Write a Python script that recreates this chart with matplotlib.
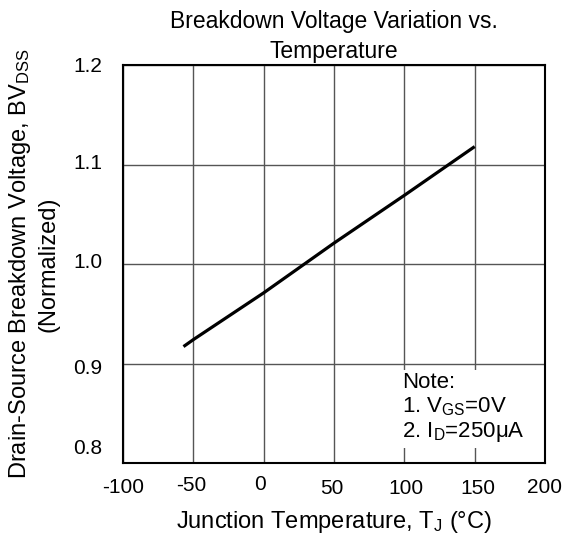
import matplotlib
matplotlib.use("Agg")
import matplotlib.pyplot as plt
import matplotlib.transforms as mtrans

plt.rcParams['font.family'] = ['Liberation Sans', 'DejaVu Sans']
plt.rcParams['mathtext.fontset'] = 'custom'
plt.rcParams['mathtext.rm'] = 'Liberation Sans'
plt.rcParams['mathtext.it'] = 'Liberation Sans'

# Data
temps = [-57, -50, 0, 50, 100, 150]
bv_norm = [0.917, 0.924, 0.971, 1.021, 1.069, 1.118]
x_ticks = [-100, -50, 0, 50, 100, 150, 200]
x_tick_labels = ['-100', '-50', '0', '50', '100', '150', '200']
y_ticks = [0.8, 0.9, 1.0, 1.1, 1.2]
y_tick_labels = ['0.8', '0.9', '1.0', '1.1', '1.2']
# per-label pixel offsets (dx, dy up) for tick labels
x_label_offsets = [(0, 0), (-2, 2), (-4, 3), (-2, -1), (2, -1), (3, -1), (0, 0)]
y_label_offsets = [(0, 16), (0, -2.5), (0, 3.5), (0, 3), (0, 0)]

fig = plt.figure(figsize=(5.67, 5.43), dpi=100)
ax = fig.add_axes([123/567, 1-463/543, (545-123)/567, (463-65)/543])

ax.plot(temps, bv_norm, color='black', lw=2.3, solid_capstyle='butt', zorder=3)

ax.set_xlim(-100, 200)
ax.set_ylim(0.8, 1.2)
ax.set_xticks(x_ticks)
ax.set_xticklabels(x_tick_labels)
ax.set_yticks(y_ticks)
ax.set_yticklabels(y_tick_labels)
ax.tick_params(axis='both', length=0, labelsize=15, colors='black')
ax.tick_params(axis='x', pad=11)
ax.tick_params(axis='y', pad=15)
ax.grid(True, color='#555555', lw=1.0)
ax.set_axisbelow(True)
for s in ax.spines.values():
    s.set_linewidth(1.5)
    s.set_color('black')

for lab, (dx, dy) in zip(ax.get_xticklabels(), x_label_offsets):
    off = mtrans.ScaledTranslation(dx/100, dy/100, fig.dpi_scale_trans)
    lab.set_transform(lab.get_transform() + off)
for lab, (dx, dy) in zip(ax.get_yticklabels(), y_label_offsets):
    off = mtrans.ScaledTranslation(dx/100, dy/100, fig.dpi_scale_trans)
    lab.set_transform(lab.get_transform() + off)

ax.set_title('Breakdown Voltage Variation vs.\nTemperature', fontsize=16.5, pad=5, linespacing=1.4)
ax.set_xlabel(r'Junction Temperature, T$_{\mathrm{J}}$ (°C)', fontsize=17, labelpad=8)
ax.set_ylabel('Drain-Source Breakdown Voltage, BV$_{\\mathrm{DSS}}$\n(Normalized)', fontsize=17, labelpad=10, linespacing=1.25)

ax.text(0.662, 0.228, 'Note:\n1. V$_{\\mathrm{GS}}$=0V\n2. I$_{\\mathrm{D}}$=250μA',
        transform=ax.transAxes, ha='left', va='top', fontsize=16, linespacing=1.13,
        bbox=dict(facecolor='white', edgecolor='none', pad=3), zorder=4)

fig.savefig('out.png', dpi=100)
